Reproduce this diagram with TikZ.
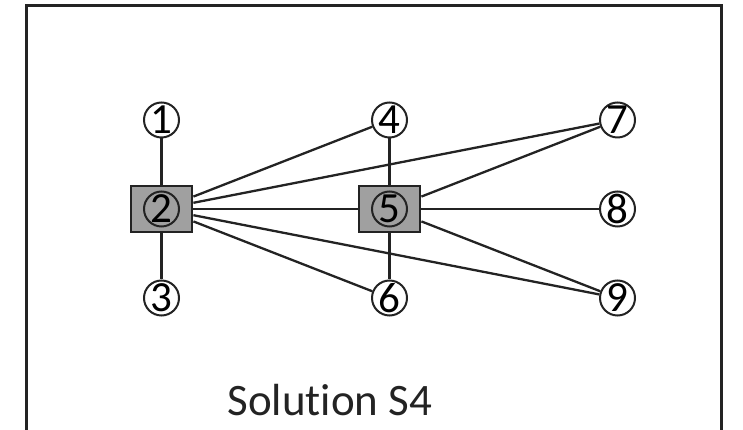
\documentclass[tikz,border=0pt]{standalone}
\usepackage{fontspec}
\setmainfont{Carlito}[Ligatures=CommonOff]
\definecolor{boxgray}{RGB}{160,160,160}
\definecolor{ink}{RGB}{35,35,35}
\begin{document}
\begin{tikzpicture}[x=1pt, y=1pt, node distance=89,
    leaf/.style={draw=ink, circle, line width=2, inner sep=-2, minimum size=35,
      font=\fontsize{43}{43}\selectfont},
    hub/.style={draw=ink, fill=boxgray, line width=2.8, minimum width=61,
      minimum height=46, label={[leaf]center:#1}},
    wire/.style={draw=ink, line width=2.3}]
  \useasboundingbox (0,0) rectangle (743,430);
  \draw[ink, line width=3] (26,0) -- (26,424) -- (721,424) -- (721,0);
  % left column
  \node[hub=2]             (n2) at (161.5,221) {};
  \node[leaf, above of=n2] (n1) {1};
  \node[leaf, below of=n2] (n3) {3};
  \tikzset{node distance=228};
  % middle and right columns
  \node[hub=5, right of=n2]  (n5) {};
  \node[leaf, right of=n1]   (n4) {4};
  \node[leaf, right of=n3]   (n6) {6};
  \node[leaf, right of=n4]   (n7) {7};
  \node[leaf, right of=n5]   (n8) {8};
  \node[leaf, right of=n6]   (n9) {9};
  \draw[wire] (n1) -- (n2);
  \draw[wire] (n2) -- (n3);
  \draw[wire] (n2) -- (n4);
  \draw[wire] (n2) -- (n7);
  \draw[wire] (n2) -- (n5);
  \draw[wire] (n2) -- (n6);
  \draw[wire] (n2) -- (n9);
  \draw[wire] (n4) -- (n5);
  \draw[wire] (n5) -- (n6);
  \draw[wire] (n5) -- (n7);
  \draw[wire] (n5) -- (n8);
  \draw[wire] (n5) -- (n9);
  \node[font=\fontsize{45}{45}\selectfont, text=ink] (title) at (330,30) {Solution S4};
\end{tikzpicture}
\end{document}
